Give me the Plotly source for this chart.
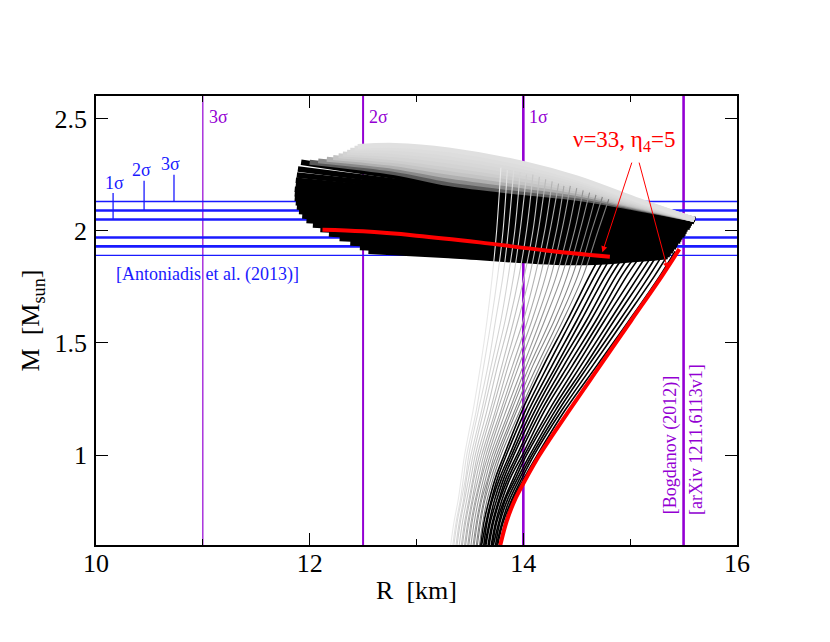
import plotly.graph_objects as go

M_GRID_B = [0.6, 0.7, 0.8, 0.9, 1.0, 1.2, 1.4, 1.6, 1.8]
M_GRID_G = [0.6, 0.7, 0.8, 0.9, 1.0, 1.2, 1.4, 1.6, 1.8, 2.0]

# black family, lower branches: R (km) at M_GRID_B, then end point
BLACK_R = [
    [13.60, 13.63, 13.68, 13.74, 13.82, 13.99, 14.19, 14.41, 14.62],
    [13.61, 13.65, 13.70, 13.76, 13.84, 14.02, 14.23, 14.45, 14.67],
    [13.63, 13.66, 13.71, 13.78, 13.87, 14.05, 14.27, 14.50, 14.72],
    [13.64, 13.68, 13.73, 13.80, 13.89, 14.08, 14.31, 14.54, 14.77],
    [13.65, 13.69, 13.75, 13.82, 13.91, 14.11, 14.34, 14.59, 14.82],
    [13.67, 13.71, 13.77, 13.84, 13.94, 14.14, 14.38, 14.63, 14.87],
    [13.68, 13.72, 13.78, 13.86, 13.96, 14.17, 14.42, 14.68, 14.92],
    [13.70, 13.74, 13.80, 13.88, 13.99, 14.20, 14.46, 14.72, 14.97],
    [13.71, 13.75, 13.82, 13.91, 14.01, 14.24, 14.50, 14.76, 15.03],
    [13.72, 13.77, 13.83, 13.93, 14.03, 14.27, 14.54, 14.81, 15.08],
    [13.74, 13.78, 13.85, 13.95, 14.06, 14.30, 14.58, 14.85, 15.13],
    [13.75, 13.80, 13.87, 13.97, 14.08, 14.33, 14.61, 14.90, 15.18],
    [13.76, 13.81, 13.89, 13.99, 14.10, 14.36, 14.65, 14.94, 15.23],
    [13.78, 13.83, 13.90, 14.01, 14.13, 14.39, 14.69, 14.99, 15.28],
]
BLACK_END_R = [14.70, 14.75, 14.80, 14.86, 14.91, 14.96, 15.02, 15.07, 15.13, 15.19, 15.24, 15.30, 15.36, 15.42]
BLACK_END_M = [1.870, 1.868, 1.867, 1.866, 1.866, 1.866, 1.868, 1.870, 1.873, 1.878, 1.883, 1.890, 1.898, 1.908]

# black family, upper (hybrid) branches: right end, value at 14.5 km, at 13.3 km, left end
HYB_RIGHT_R = [15.35, 15.37, 15.38, 15.40, 15.41, 15.43, 15.44, 15.45, 15.47, 15.48,
               15.49, 15.51, 15.52, 15.53, 15.54, 15.56, 15.57, 15.58, 15.60, 15.61]
HYB_RIGHT_M = [1.885, 1.894, 1.902, 1.911, 1.920, 1.928, 1.937, 1.946, 1.954, 1.963,
               1.972, 1.981, 1.989, 1.998, 2.007, 2.015, 2.024, 2.033, 2.041, 2.050]
HYB_M_145 = [1.858, 1.873, 1.888, 1.903, 1.918, 1.934, 1.949, 1.964, 1.979, 1.994,
             2.009, 2.024, 2.039, 2.054, 2.069, 2.085, 2.100, 2.115, 2.130, 2.145]
HYB_M_133 = [1.890, 1.907, 1.924, 1.940, 1.957, 1.974, 1.991, 2.008, 2.024, 2.041,
             2.058, 2.075, 2.092, 2.108, 2.125, 2.142, 2.159, 2.176, 2.192, 2.210]
HYB_LEFT_R = [12.55, 12.47, 12.38, 12.28, 12.18, 12.10, 12.03, 11.97, 11.93, 11.90,
              11.88, 11.87, 11.86, 11.86, 11.86, 11.87, 11.87, 11.88, 11.89, 11.92]
HYB_LEFT_M = [1.908, 1.925, 1.945, 1.965, 1.985, 2.005, 2.025, 2.045, 2.065, 2.085,
              2.105, 2.125, 2.145, 2.165, 2.185, 2.205, 2.225, 2.248, 2.275, 2.305]

# grey family, lower branches: R at M_GRID_G, then end point
GREY_R = [
    [13.32, 13.35, 13.39, 13.42, 13.45, 13.53, 13.60, 13.66, 13.71, 13.75],
    [13.34, 13.37, 13.41, 13.44, 13.47, 13.56, 13.63, 13.70, 13.76, 13.81],
    [13.35, 13.38, 13.42, 13.46, 13.49, 13.58, 13.67, 13.74, 13.81, 13.86],
    [13.37, 13.40, 13.44, 13.47, 13.51, 13.61, 13.70, 13.79, 13.86, 13.92],
    [13.38, 13.41, 13.45, 13.49, 13.53, 13.63, 13.73, 13.83, 13.91, 13.97],
    [13.40, 13.43, 13.47, 13.51, 13.55, 13.66, 13.76, 13.87, 13.96, 14.03],
    [13.42, 13.45, 13.49, 13.53, 13.57, 13.69, 13.80, 13.91, 14.01, 14.09],
    [13.43, 13.46, 13.50, 13.54, 13.59, 13.71, 13.83, 13.95, 14.06, 14.14],
    [13.45, 13.48, 13.52, 13.56, 13.61, 13.74, 13.86, 14.00, 14.11, 14.20],
    [13.46, 13.49, 13.53, 13.58, 13.63, 13.76, 13.90, 14.04, 14.16, 14.25],
    [13.48, 13.51, 13.55, 13.60, 13.65, 13.79, 13.93, 14.08, 14.21, 14.31],
    [13.49, 13.52, 13.56, 13.61, 13.67, 13.81, 13.96, 14.12, 14.26, 14.36],
    [13.51, 13.54, 13.58, 13.63, 13.69, 13.84, 14.00, 14.16, 14.31, 14.42],
    [13.53, 13.56, 13.60, 13.65, 13.71, 13.87, 14.03, 14.20, 14.36, 14.48],
    [13.54, 13.57, 13.61, 13.67, 13.73, 13.89, 14.06, 14.25, 14.41, 14.53],
    [13.56, 13.59, 13.63, 13.68, 13.75, 13.92, 14.09, 14.29, 14.46, 14.59],
    [13.57, 13.60, 13.64, 13.70, 13.77, 13.94, 14.13, 14.33, 14.51, 14.64],
    [13.59, 13.62, 13.66, 13.72, 13.79, 13.97, 14.16, 14.37, 14.56, 14.70],
]
GREY_END_R = [13.79, 13.85, 13.91, 13.97, 14.03, 14.09, 14.15, 14.21, 14.27,
              14.33, 14.38, 14.44, 14.50, 14.56, 14.62, 14.68, 14.74, 14.80]
GREY_END_M = [2.28, 2.27, 2.27, 2.26, 2.25, 2.25, 2.24, 2.23, 2.22,
              2.21, 2.20, 2.20, 2.19, 2.18, 2.17, 2.16, 2.15, 2.14]

# grey family, upper branches: M at these radii, then left end
UP_R = [15.60, 15.05, 14.5, 14.0, 13.3, 12.8]
UP_M = [
    [2.05, 2.100, 2.145, 2.170, 2.210, 2.258],
    [2.05, 2.104, 2.155, 2.184, 2.227, 2.272],
    [2.05, 2.109, 2.165, 2.199, 2.243, 2.285],
    [2.05, 2.113, 2.175, 2.213, 2.260, 2.298],
    [2.05, 2.118, 2.185, 2.228, 2.277, 2.311],
    [2.05, 2.122, 2.195, 2.242, 2.293, 2.324],
    [2.05, 2.127, 2.205, 2.256, 2.310, 2.338],
    [2.05, 2.131, 2.215, 2.271, 2.327, 2.352],
    [2.05, 2.136, 2.225, 2.285, 2.343, 2.366],
    [2.05, 2.140, 2.235, 2.300, 2.360, 2.380],
]
UP_LEFT_R = [12.00, 12.08, 12.16, 12.22, 12.27, 12.31, 12.35, 12.38, 12.42, 12.45]
UP_LEFT_M = [2.305, 2.311, 2.318, 2.326, 2.334, 2.342, 2.350, 2.358, 2.367, 2.375]

# highlighted curve nu=33, eta4=5
RED_LOW_R = [13.785, 13.84, 13.92, 14.03, 14.15, 14.43, 14.72, 15.01, 15.30, 15.46]
RED_LOW_M = [0.6, 0.7, 0.8, 0.9, 1.0, 1.2, 1.4, 1.6, 1.8, 1.918]
RED_HYB_R = [12.12, 12.5, 13.0, 13.59, 14.21, 14.81]
RED_HYB_M = [2.004, 1.997, 1.978, 1.948, 1.912, 1.884]

# observational bands
ANTONIADIS_1S = [1.97, 2.05]
ANTONIADIS_2S = [1.93, 2.09]
ANTONIADIS_3S = [1.89, 2.13]
BOGDANOV_R = [11.0, 12.5, 14.0, 15.5]
BOGDANOV_LBL = ["3σ", "2σ", "1σ", ""]
BOGDANOV_W = [1.2, 2.0, 2.6, 2.6]

PURPLE = "#9400d3"
BLUE = "#1a1aff"
SERIF = "Liberation Serif, Times New Roman, serif"

fig = go.Figure()


def add_line(x, y, color, width, shape="linear"):
    fig.add_trace(go.Scatter(x=x, y=y, mode="lines", line=dict(color=color, width=width, shape=shape),
                             showlegend=False, hoverinfo="skip"))


# reference lines (underneath the curves)
for r, w in zip(BOGDANOV_R, BOGDANOV_W):
    add_line([r, r], [0.6, 2.6], PURPLE, w)
for band, w in ((ANTONIADIS_3S, 1.4), (ANTONIADIS_2S, 2.6), (ANTONIADIS_1S, 2.6)):
    for m in band:
        add_line([10, 16], [m, m], BLUE, w)
for r, m0, m1 in ((10.16, 2.05, 2.168), (10.45, 2.09, 2.222), (10.73, 2.13, 2.249)):
    add_line([r, r], [m0, m1], BLUE, 1.3)

# black lower branches
for rows, re, me in zip(BLACK_R, BLACK_END_R, BLACK_END_M):
    add_line(rows + [re], M_GRID_B + [me], "black", 1.6, "spline")

# black upper branches
for i in range(len(HYB_RIGHT_R)):
    add_line([HYB_RIGHT_R[i], 14.5, 13.3, HYB_LEFT_R[i]],
             [HYB_RIGHT_M[i], HYB_M_145[i], HYB_M_133[i], HYB_LEFT_M[i]], "black", 5.5, "spline")

# grey upper branches
up_colors = ["#5a5a5a", "#8a8a8a", "#b0b0b0", "#c4c4c4", "#cdcdcd",
             "#d3d3d3", "#d7d7d7", "#dadada", "#dddddd", "#e0e0e0"]
for ms, rl, ml, c in zip(UP_M, UP_LEFT_R, UP_LEFT_M, up_colors):
    add_line(UP_R + [rl], ms + [ml], c, 5, "spline")

# grey lower branches, lightest on the left
n = len(GREY_R)
for i, (rows, re, me) in enumerate(zip(GREY_R, GREY_END_R, GREY_END_M)):
    g = int(232 - 110 * i / (n - 1))
    add_line(rows + [re], M_GRID_G + [me], f"rgb({g},{g},{g})", 1.1, "spline")

# red curve
add_line(RED_LOW_R, RED_LOW_M, "red", 4, "spline")
add_line(RED_HYB_R, RED_HYB_M, "red", 4, "spline")

ann = []
for r, t in zip(BOGDANOV_R, BOGDANOV_LBL):
    if t:
        ann.append(dict(x=r, y=2.505, text=t, showarrow=False, xanchor="left", xshift=4,
                        font=dict(family=SERIF, size=18, color=PURPLE)))
for r, m, t in ((10.17, 2.17, "1σ"), (10.43, 2.224, "2σ"), (10.70, 2.251, "3σ")):
    ann.append(dict(x=r, y=m, text=t, showarrow=False, yanchor="bottom", yshift=-2,
                    font=dict(family=SERIF, size=18, color=BLUE)))
ann.append(dict(x=11.04, y=1.806, text="[Antoniadis et al. (2013)]", showarrow=False,
                font=dict(family=SERIF, size=18, color=BLUE)))
ann.append(dict(x=15.38, y=1.043, text="[Bogdanov (2012)]", showarrow=False, textangle=-90,
                font=dict(family=SERIF, size=18, color=PURPLE)))
ann.append(dict(x=15.62, y=1.07, text="[arXiv 1211.6113v1]", showarrow=False, textangle=-90,
                font=dict(family=SERIF, size=18, color=PURPLE)))
ann.append(dict(x=14.94, y=2.40, text="ν=33, η<sub>4</sub>=5", showarrow=False,
                font=dict(family=SERIF, size=23, color="red")))
for (x0, y0), (x1, y1) in (((15.02, 2.31), (14.74, 1.904)), ((15.08, 2.31), (15.35, 1.83))):
    ann.append(dict(x=x1, y=y1, ax=x0, ay=y0, axref="x", ayref="y", text="", showarrow=True,
                    arrowhead=2, arrowsize=1.2, arrowwidth=1, arrowcolor="red"))

axis = dict(showline=True, linecolor="black", linewidth=1.5, mirror="ticks", ticks="inside",
            ticklen=12, tickwidth=1.2, tickcolor="black", showgrid=False, zeroline=False,
            automargin=False, tickfont=dict(family=SERIF, size=26, color="black"))

# the page body adds an 8px offset, so the margins are set 8px smaller on the top/left
fig.update_layout(
    width=830, height=642,
    margin=dict(l=88, r=101, t=88, b=105),
    font=dict(family=SERIF),
    paper_bgcolor="white", plot_bgcolor="white",
    xaxis=dict(axis, range=[10, 16], tickvals=[10, 12, 14, 16], ticklabelstandoff=-6,
               minor=dict(tickvals=[11, 13, 15], ticks="inside", ticklen=6, tickcolor="black"),
               title=dict(text="R  [km]", font=dict(family=SERIF, size=26, color="black"), standoff=4)),
    yaxis=dict(axis, range=[0.6, 2.6], tickvals=[1, 1.5, 2, 2.5], ticklabelstandoff=2,
               title=dict(text="M  [M<sub>sun</sub>]", font=dict(family=SERIF, size=26, color="black"),
                          standoff=7)),
    annotations=ann,
)

fig.write_html("out.html")
